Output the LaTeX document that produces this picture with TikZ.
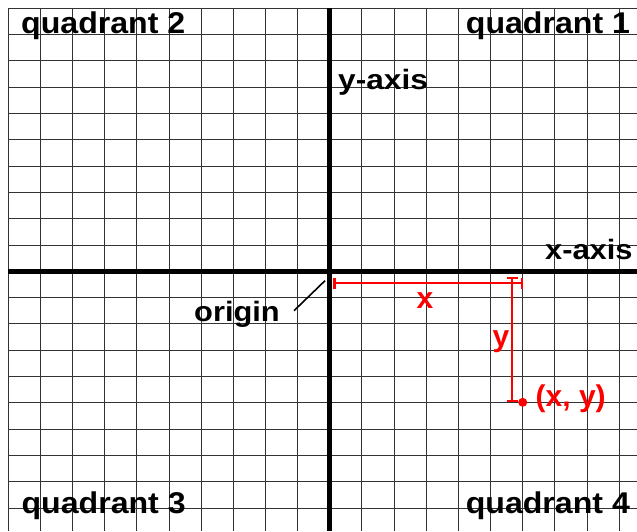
\documentclass[tikz,border=0pt]{standalone}
\usepackage{fontspec}
\setmainfont{Liberation Sans}
\usetikzlibrary{arrows.meta}
\begin{document}
\begin{tikzpicture}[x=1pt,y=-1pt,
  gridline/.style={black!80, line width=1pt},
  axisline/.style={black, line width=5pt},
  lbl/.style={anchor=base west, inner sep=0pt, font=\bfseries},
  redlbl/.style={lbl, text=red},
  measure/.style={red, line width=2.2pt, {Bar[width=11pt]}-{Bar[width=11pt]}},
  pointer/.style={black, line width=1.6pt}
]
\useasboundingbox (0,0) rectangle (637,531);
\fill[white] (0,0) rectangle (637,531);
% grid
\foreach \i in {0,...,19} \draw[gridline] ({8.3+32.15*\i},8.3) -- ({8.3+32.15*\i},531);
\foreach \j in {0,...,19} \draw[gridline] (8.3,{8.3+26.3*\j}) -- (637,{8.3+26.3*\j});
% axes
\coordinate (xl) at (8.3,271.5);
\coordinate (xr) at (637,271.5);
\coordinate (yt) at (329.8,8.3);
\coordinate (yb) at (329.8,531);
\draw[axisline] (xl) -- (xr);
\draw[axisline] (yt) -- (yb);
% labels
\node[lbl] (q2) at (21,33) {\fontsize{30}{36}\selectfont\scalebox{1.07}[1]{quadrant 2}};
\node[lbl] (q1) at (465.7,33) {\fontsize{30}{36}\selectfont\scalebox{1.07}[1]{quadrant 1}};
\node[lbl] (q3) at (21.4,513.3) {\fontsize{30}{36}\selectfont\scalebox{1.07}[1]{quadrant 3}};
\node[lbl] (q4) at (465.6,513.7) {\fontsize{30}{36}\selectfont\scalebox{1.07}[1]{quadrant 4}};
\node[lbl] (ya) at (338,89) {\fontsize{28}{34}\selectfont\scalebox{1.13}[1]{y-axis}};
\node[lbl] (xa) at (545,259.5) {\fontsize{28}{34}\selectfont\scalebox{1.1}[1]{x-axis}};
\node[lbl] (org) at (194,321.7) {\fontsize{28}{34}\selectfont\scalebox{1.1}[1]{origin}};
% origin pointer
\coordinate (op) at (294,310.7);
\coordinate (o) at (325,280.7);
\draw[pointer] (op) -- (o);
% measurements
\coordinate (xs) at (333.3,283.3);
\coordinate (xe) at (522.7,283.3);
\draw[measure] (xs) -- (xe);
\coordinate (ys) at (512.3,276.7);
\coordinate (ye) at (512.3,402.3);
\draw[measure] (ys) -- (ye);
\node[circle, fill=red, inner sep=0pt, minimum size=9pt] (pt) at (522.7,402.3) {};
\node[redlbl] (lx) at (416.5,308.3) {\fontsize{30}{36}\selectfont x};
\node[redlbl] (ly) at (492.5,346.7) {\fontsize{30}{36}\selectfont y};
\node[redlbl] (lxy) at (535.5,406) {\fontsize{30}{36}\selectfont (x, y)};
\end{tikzpicture}
\end{document}
